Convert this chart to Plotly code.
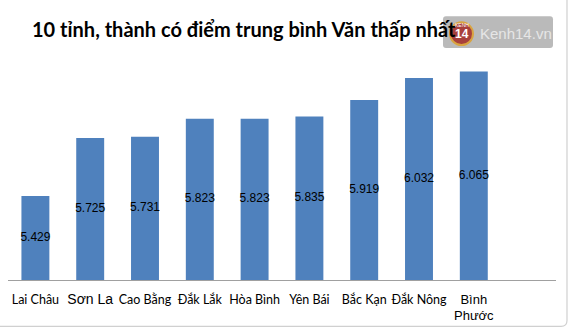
import plotly.graph_objects as go

provinces = ["Lai Châu", "Sơn La", "Cao Bằng", "Đắk Lắk", "Hòa Bình",
             "Yên Bái", "Bắc Kạn", "Đắk Nông", "Bình Phước"]
scores = [5.429, 5.725, 5.731, 5.823, 5.823, 5.835, 5.919, 6.032, 6.065]
score_labels = ["5.429", "5.725", "5.731", "5.823", "5.823", "5.835", "5.919", "6.032", "6.065"]
tick_labels = [
    "Lai Châu",
    '<span style="font-family:Liberation Sans;font-size:14px">Sơn La</span>',
    "Cao Bằng", "Đắk Lắk", "Hòa Bình", "Yên Bái", "Bắc Kạn", "Đắk Nông",
    '<span style="font-family:Liberation Sans;font-size:13px">Bình<br>Phước</span>',
]
title = "10 tỉnh, thành có điểm trung bình Văn thấp nhất"
y_min, y_max = 5.0, 6.2

W, H = 569, 331
L, R, T, B = 8, 13, 45, 48
PW, PH = W - L - R, H - T - B

def px(x):
    return (x - L) / PW

def py(y):
    return (H - B - y) / PH

fig = go.Figure()
fig.add_trace(go.Bar(
    x=provinces, y=scores,
    marker=dict(color="#4F81BD", line=dict(width=0)),
    width=0.51, hoverinfo="skip",
))
# value labels centred in each bar
fig.add_trace(go.Scatter(
    x=provinces, y=[(y_min + v) / 2 for v in scores], text=score_labels,
    mode="text", textposition="middle center",
    textfont=dict(family="Liberation Sans", size=12, color="#000000"),
    hoverinfo="skip",
))

shapes = []
# chart frame (bottom/right edge)
shapes.append(dict(type="path", xref="paper", yref="paper",
                   path=f"M {px(-5)},{py(330)} L {px(561)},{py(330)} Q {px(567)},{py(330)} {px(567)},{py(324)} L {px(567)},{py(-5)}",
                   line=dict(color="#d0d0d0", width=1.2), layer="above"))
# watermark box
x0, x1, y0, y1, r = 443, 553, 16, 48, 3
shapes.append(dict(type="path", xref="paper", yref="paper",
                   path=(f"M {px(x0+r)},{py(y0)} L {px(x1-r)},{py(y0)} Q {px(x1)},{py(y0)} {px(x1)},{py(y0+r)} "
                         f"L {px(x1)},{py(y1-r)} Q {px(x1)},{py(y1)} {px(x1-r)},{py(y1)} "
                         f"L {px(x0+r)},{py(y1)} Q {px(x0)},{py(y1)} {px(x0)},{py(y1-r)} "
                         f"L {px(x0)},{py(y0+r)} Q {px(x0)},{py(y0)} {px(x0+r)},{py(y0)} Z"),
                   fillcolor="rgba(160,160,160,0.72)", line=dict(width=0), layer="above"))
# logo circle
shapes.append(dict(type="circle", xref="paper", yref="paper",
                   x0=px(450), x1=px(473), y0=py(22), y1=py(45),
                   fillcolor="#a8403c", line=dict(color="#d9a441", width=2), layer="above"))

annotations = [
    dict(text=f"<b>{title}</b>", xref="paper", yref="paper", x=px(30), y=py(29),
         xanchor="left", yanchor="middle", showarrow=False,
         font=dict(family="Lato", size=20, color="#000000")),
    dict(text="<b>14</b>", xref="paper", yref="paper", x=px(461.5), y=py(34),
         xanchor="center", yanchor="middle", showarrow=False,
         font=dict(family="Liberation Sans", size=12, color="#ffffff")),
    dict(text="KENH", xref="paper", yref="paper", x=px(461.5), y=py(24.5),
         xanchor="center", yanchor="middle", showarrow=False,
         font=dict(family="Liberation Sans", size=5, color="#ffffff")),
    dict(text="Kenh14.vn", xref="paper", yref="paper", x=px(478), y=py(33),
         xanchor="left", yanchor="middle", showarrow=False,
         font=dict(family="Liberation Sans", size=15, color="#e6e6e6")),
]

fig.update_layout(
    width=W, height=H,
    margin=dict(l=L, r=R, t=T, b=B, pad=0),
    paper_bgcolor="#ffffff", plot_bgcolor="#ffffff",
    showlegend=False,
    shapes=shapes, annotations=annotations,
    xaxis=dict(type="category", range=[-0.5, 9.5], tickmode="array",
               tickvals=provinces, ticktext=tick_labels,
               showgrid=False, zeroline=False, showline=True,
               linecolor="#a0a0a0", linewidth=1, ticks="",
               ticklabelstandoff=8,
               tickfont=dict(family="Lato", size=12.5, color="#000000")),
    yaxis=dict(range=[y_min, y_max], visible=False, showgrid=False, zeroline=False),
)

fig.write_html("out.html")
